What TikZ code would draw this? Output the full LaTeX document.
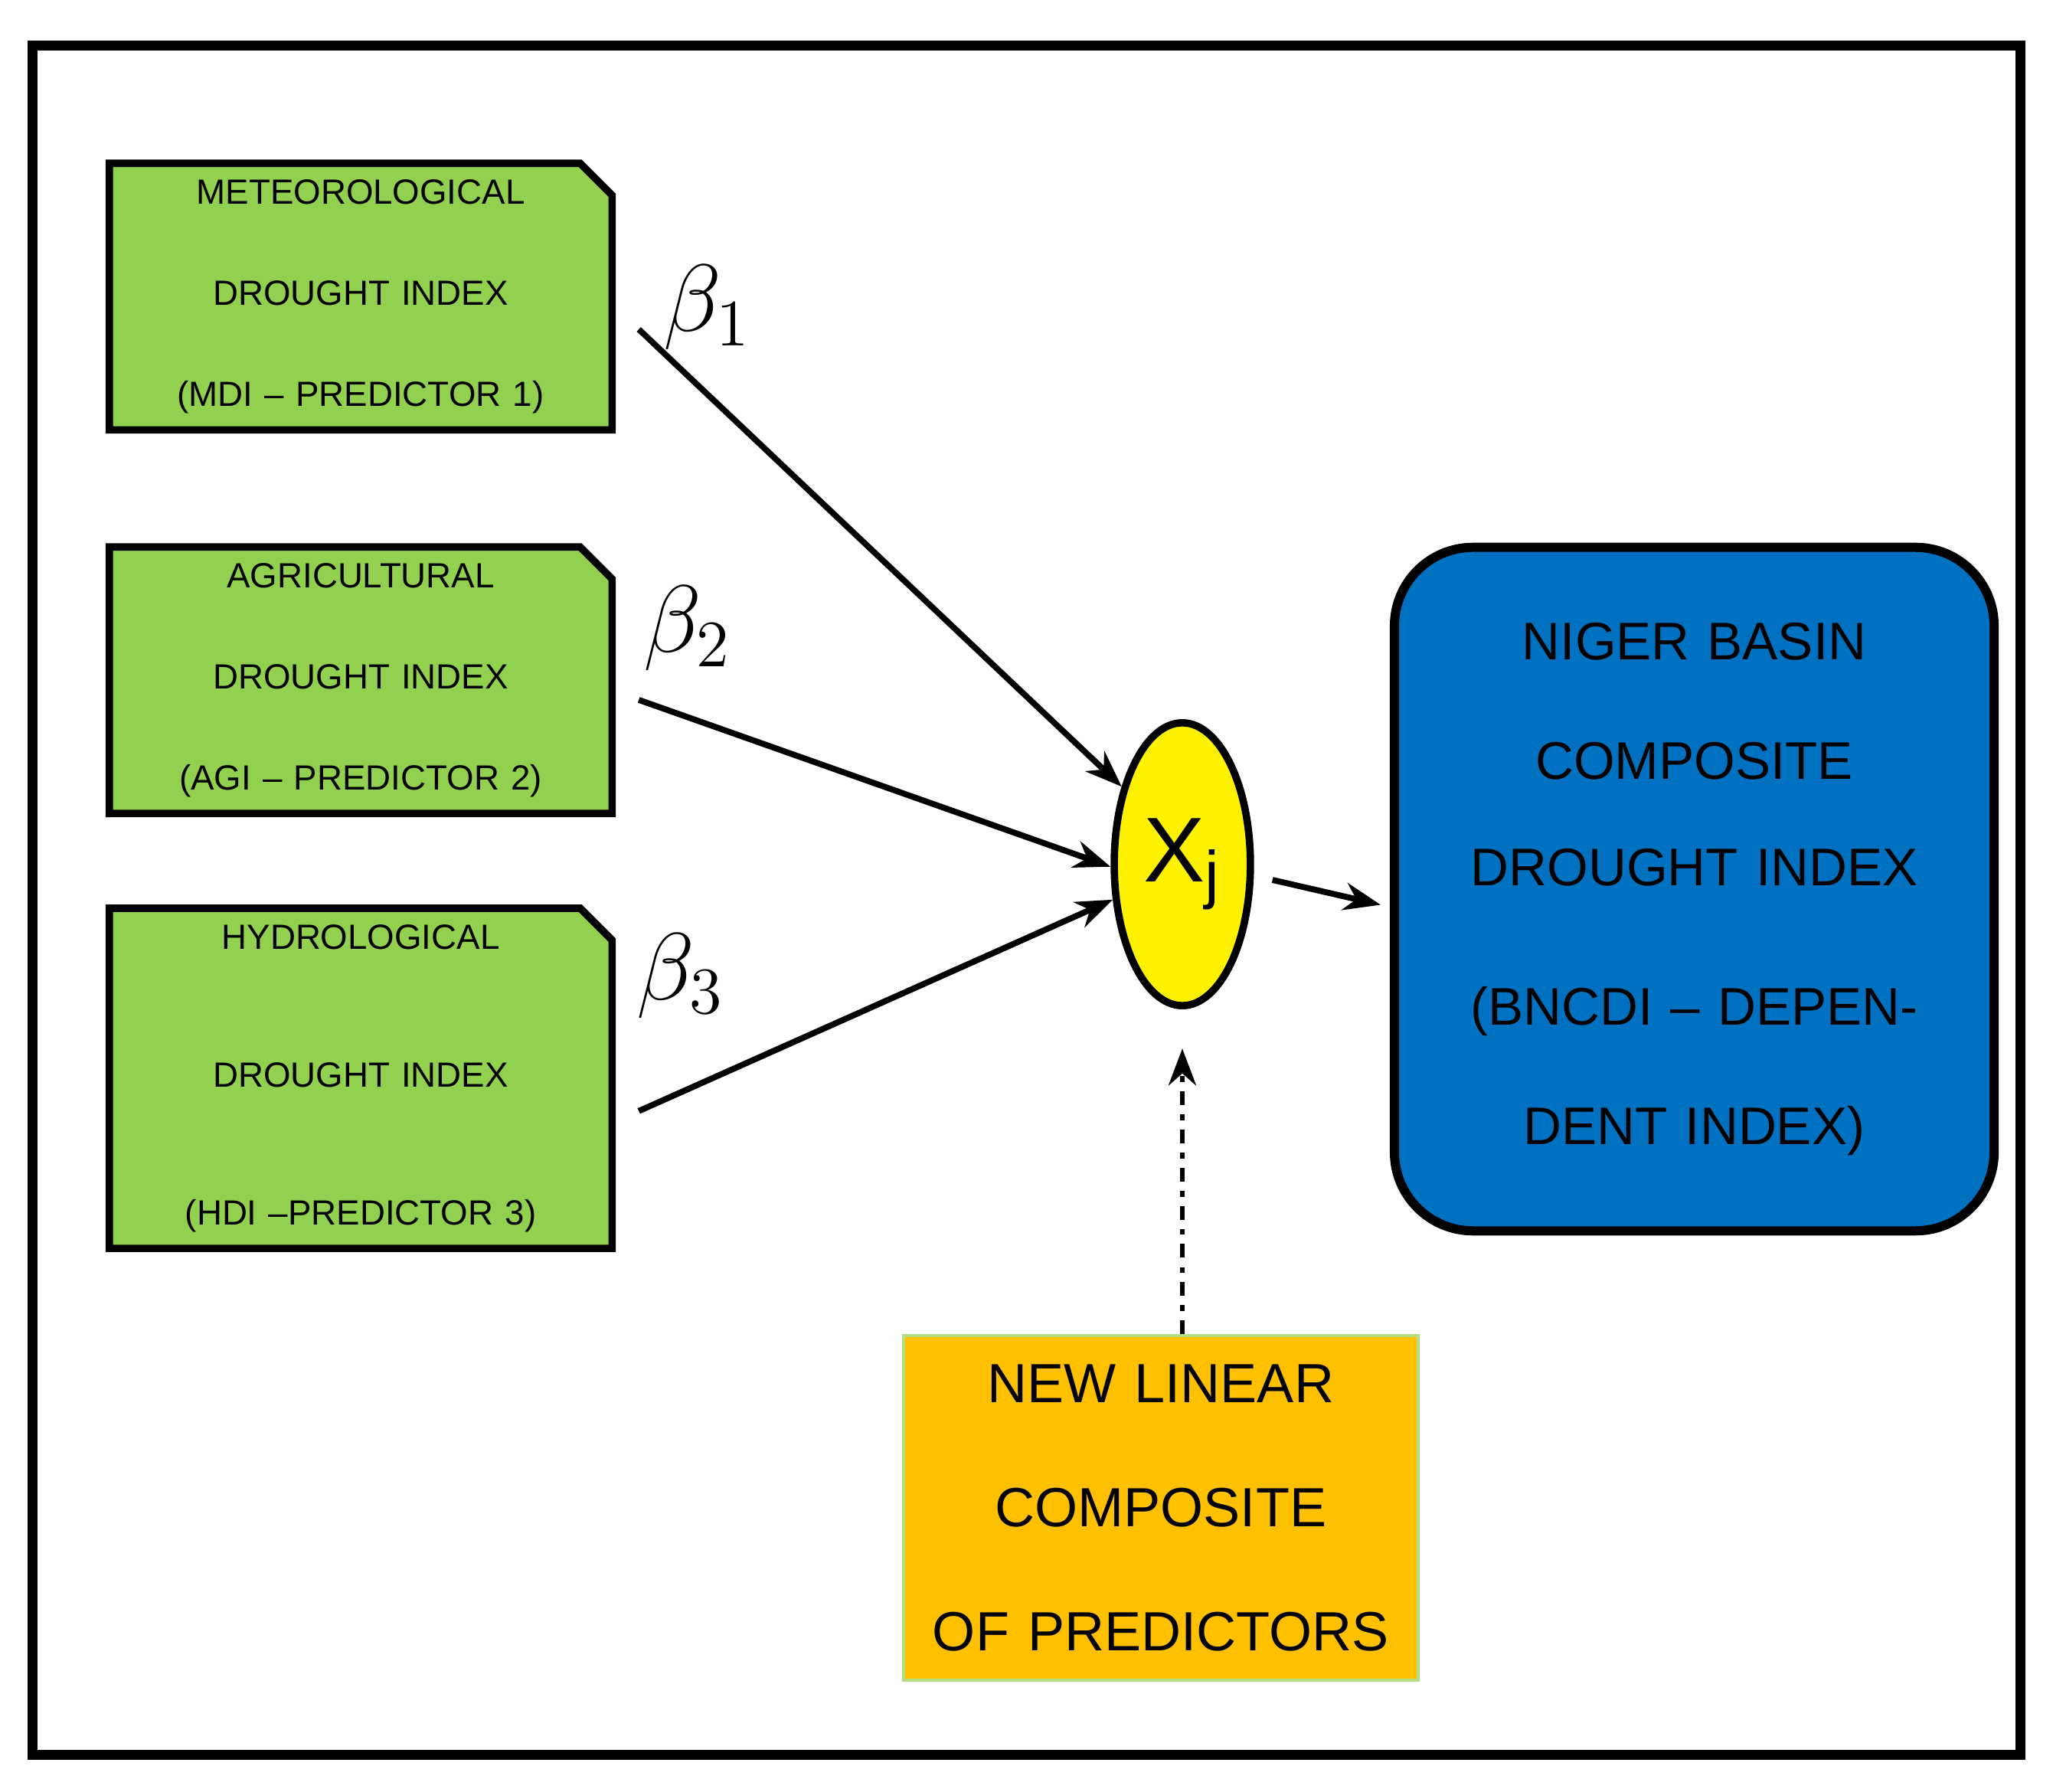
\documentclass[tikz,border=0pt]{standalone}
\usepackage{fontspec}
\setmainfont{Liberation Sans}
\usetikzlibrary{arrows.meta,shapes.misc,shapes.geometric}
\definecolor{leafgreen}{HTML}{92D050}
\definecolor{deepblue}{HTML}{0070C0}
\definecolor{amber}{HTML}{FFC000}
\begin{document}
\begin{tikzpicture}[x=1cm,y=-1cm,
    predictor/.style={chamfered rectangle,chamfered rectangle corners=north east,chamfered rectangle xsep=0.12cm,
      draw=black,line width=1.6pt,fill=leafgreen,minimum width=3.75cm,text width=3.6cm,inner sep=0pt,
      align=center,font=\fontsize{7.6}{22}\selectfont},
    link/.style={-{Stealth[length=8pt,width=6pt]},line width=1.3pt},
    beta/.style={font=\fontsize{22}{24}\selectfont}]
\useasboundingbox (0,0) rectangle (15.68,13.68);
\draw[line width=2.2pt] (0.25,0.35) rectangle (15.43,13.40);
% predictors
\node[predictor,minimum height=1.77cm] (mdi) at (2.755,2.265) {METEOROLOGICAL DROUGHT INDEX\\(MDI – PREDICTOR 1)};
\node[predictor,minimum height=1.75cm] (agi) at (2.755,5.195) {AGRICULTURAL DROUGHT INDEX\\(AGI – PREDICTOR 2)};
\node[predictor,minimum height=1.93cm,font=\fontsize{7.6}{30}\selectfont] (hdi) at (2.755,8.235) {HYDROLOGICAL DROUGHT INDEX\\(HDI –PREDICTOR 3)};
% composite
\node[ellipse,draw=black,line width=1.6pt,fill=yellow,minimum width=1.04cm,minimum height=2.16cm,inner sep=0pt,
  font=\fontsize{20}{22}\selectfont] (xj) at (9.03,6.60) {X$_{\mathrm{j}}$};
\node[draw=black,line width=2pt,fill=deepblue,rounded corners=0.6cm,minimum width=4.58cm,minimum height=5.22cm,
  text width=4.3cm,inner sep=0pt,align=center,font=\fontsize{11.5}{26}\selectfont] (bncdi) at (12.94,6.79)
  {NIGER BASIN COMPOSITE\\[-0.1cm]DROUGHT INDEX\\[0.15cm](BNCDI – DEPENDENT INDEX)};
\node[draw=leafgreen!70,line width=0.6pt,fill=amber,minimum width=3.93cm,minimum height=2.63cm,
  text width=3.8cm,inner sep=0pt,align=center,font=\fontsize{12}{27}\selectfont] (nlc) at (8.865,11.515)
  {NEW LINEAR COMPOSITE\\OF PREDICTORS\\[0.5cm]};
% connectors
\draw[link] ([xshift=5pt,yshift=-0.25cm]mdi.east) -- (xj.128);
\draw[link] ([xshift=5pt,yshift=-0.15cm]agi.east) -- (xj.182);
\draw[link] ([xshift=5pt,yshift=-0.25cm]hdi.east) -- (xj.207);
\draw[link] ([xshift=4pt,yshift=-0.12cm]xj.east) -- ([xshift=-2pt,yshift=-0.12cm]bncdi.west);
\draw[link,dash dot,line width=1.1pt] (nlc.north -| xj.south) -- ([yshift=-0.3cm]xj.south);
\node[beta] at (5.40,2.35) {$\beta_1$};
\node[beta] at (5.25,4.80) {$\beta_2$};
\node[beta] at (5.20,7.45) {$\beta_3$};
\end{tikzpicture}
\end{document}
